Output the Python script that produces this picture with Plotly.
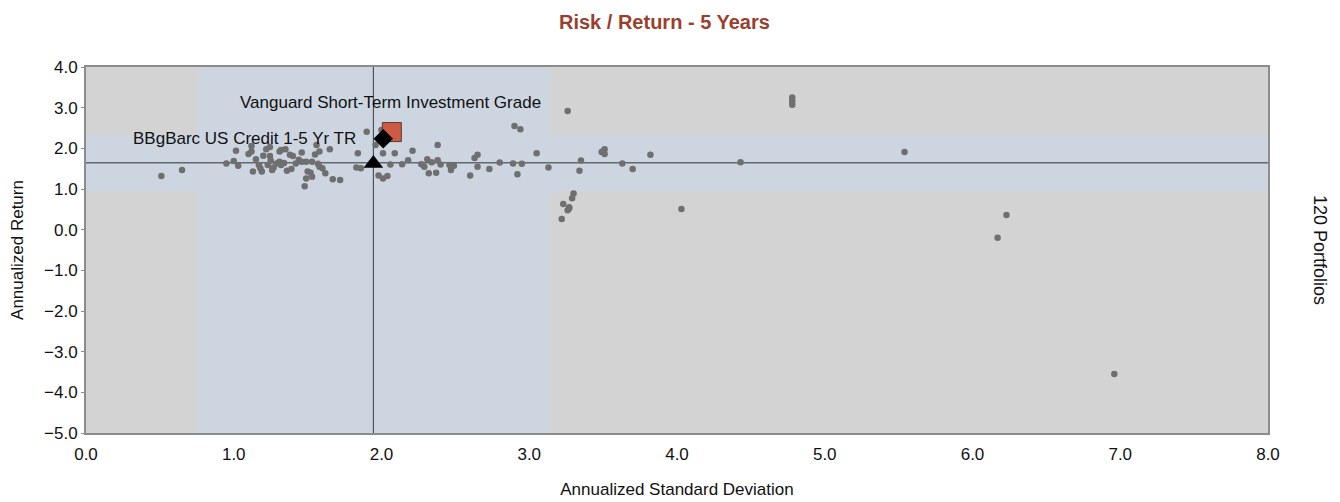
import plotly.graph_objects as go

# ---- data ----
portfolio_sd = [
    0.51, 0.65, 0.95, 1.00, 1.015, 1.03, 1.10, 1.12, 1.12, 1.13,
    1.17, 1.18, 1.19, 1.22, 1.245, 1.245, 1.23, 1.26, 1.29, 1.31,
    1.31, 1.32, 1.32, 1.35, 1.38, 1.40, 1.39, 1.46, 1.46, 1.49,
    1.53, 1.50, 1.52, 1.49, 1.48, 1.55, 1.56, 1.58, 1.58, 1.60,
    1.62, 1.65, 1.67, 1.72, 1.84, 1.83, 1.86, 1.90, 1.96, 2.00,
    2.01, 2.09, 1.98, 2.01, 2.04, 2.14, 2.18, 2.21, 2.27, 2.29,
    2.31, 2.32, 2.37, 2.38, 2.38, 2.46, 2.47, 2.49, 2.60, 2.63,
    2.65, 2.65, 2.73, 2.80, 2.89, 2.90, 2.94, 2.92, 3.05, 3.13,
    3.26, 3.34, 3.35, 3.49, 3.51, 3.51, 3.63, 3.70, 3.82, 3.30,
    3.29, 3.23, 3.27, 3.26, 3.22, 4.03, 4.43, 4.78, 4.78, 4.78,
    5.54, 6.23, 6.17, 6.96, 1.27, 1.42, 1.36, 1.44, 1.15, 1.25,
    2.40, 2.34, 1.53, 2.95, 3.50, 1.34, 1.20, 1.57, 2.06, 3.27,
]
portfolio_ret = [
    1.32, 1.47, 1.63, 1.69, 1.94, 1.57, 1.86, 2.06, 1.92, 1.43,
    1.59, 1.51, 1.43, 1.98, 2.03, 1.81, 1.59, 1.47, 1.63, 1.92,
    1.67, 1.59, 1.96, 1.98, 1.84, 1.81, 1.49, 1.90, 1.67, 1.67,
    1.67, 1.43, 1.40, 1.26, 1.07, 1.85, 2.08, 1.92, 1.55, 1.51,
    1.39, 1.98, 1.24, 1.22, 1.88, 1.53, 1.51, 2.41, 2.08, 2.45,
    1.88, 1.88, 1.33, 1.26, 1.32, 1.61, 1.71, 1.94, 1.61, 1.55,
    1.73, 1.39, 1.40, 2.08, 1.71, 1.59, 1.47, 1.57, 1.33, 1.76,
    1.84, 1.55, 1.49, 1.65, 1.63, 2.55, 2.47, 1.36, 1.88, 1.53,
    2.92, 1.45, 1.70, 1.91, 1.98, 1.86, 1.63, 1.49, 1.84, 0.89,
    0.77, 0.63, 0.55, 0.48, 0.26, 0.51, 1.66, 3.25, 3.16, 3.07,
    1.91, 0.36, -0.20, -3.55, 1.53, 1.63, 1.45, 1.72, 1.73, 1.70,
    1.60, 1.66, 1.30, 1.62, 1.93, 1.64, 1.82, 1.62, 1.60, 0.52,
]

fund_name = "Vanguard Short-Term Investment Grade"
fund_sd, fund_ret = 2.07, 2.40
fund2_sd, fund2_ret = 2.012, 2.237
bench_name = "BBgBarc US Credit 1-5 Yr TR"
bench_sd, bench_ret = 1.945, 1.63

cross_sd, cross_ret = 1.945, 1.647
band_sd = [0.753, 3.136]
band_ret = [0.947, 2.347]

x_ticks = [0, 1, 2, 3, 4, 5, 6, 7, 8]
y_ticks = [4, 3, 2, 1, 0, -1, -2, -3, -4, -5]

FONT = "Liberation Sans, Arial, sans-serif"

# page body has an 8px default margin; figure sized so plot lands in place
W, H = 1332, 494
L, T = 78, 59
PR, PB = 1260, 425  # plot right / bottom in figure pixels

fig = go.Figure()

fig.add_trace(go.Scatter(
    x=portfolio_sd, y=portfolio_ret, mode="markers",
    marker=dict(color="#6f6f6f", size=6.5, line=dict(width=0)),
    showlegend=False, hoverinfo="x+y"))

fig.add_trace(go.Scatter(
    x=[bench_sd], y=[bench_ret], mode="markers",
    marker=dict(symbol="triangle-up", color="black", size=17),
    showlegend=False, name=bench_name))

fig.add_trace(go.Scatter(
    x=[fund_sd], y=[fund_ret], mode="markers",
    marker=dict(symbol="square", color="#cd5a45", size=19,
                line=dict(color="#5a3a30", width=1)),
    showlegend=False, name=fund_name))

fig.add_trace(go.Scatter(
    x=[fund2_sd], y=[fund2_ret], mode="markers",
    marker=dict(symbol="diamond", color="black", size=15),
    showlegend=False))

band_col = "#cdd5e1"
shapes = [
    dict(type="rect", xref="x", yref="y", x0=band_sd[0], x1=band_sd[1],
         y0=-5, y1=4, fillcolor=band_col, line=dict(width=0), layer="below"),
    dict(type="rect", xref="x", yref="y", x0=0, x1=8,
         y0=band_ret[0], y1=band_ret[1], fillcolor=band_col, line=dict(width=0), layer="below"),
    dict(type="line", xref="x", yref="y", x0=cross_sd, x1=cross_sd, y0=-5, y1=4,
         line=dict(color="#3a3a3a", width=1), layer="below"),
    dict(type="line", xref="x", yref="y", x0=0, x1=8, y0=cross_ret, y1=cross_ret,
         line=dict(color="#606870", width=1.5), layer="below"),
]

pw = PR - L
ph = PB - T
annotations = [
    dict(x=2.064, y=3.115, xref="x", yref="y", text=fund_name, showarrow=False,
         xanchor="center", yanchor="middle", font=dict(family=FONT, size=17, color="#111")),
    dict(x=1.84, y=2.254, xref="x", yref="y", text=bench_name, showarrow=False,
         xanchor="right", yanchor="middle", font=dict(family=FONT, size=17, color="#111")),
    dict(x=1.0 + (1312 - PR) / pw, y=(PB - 242) / ph, xref="paper", yref="paper",
         text="120 Portfolios", showarrow=False, textangle=90,
         xanchor="center", yanchor="middle", font=dict(family=FONT, size=18, color="#111")),
    dict(x=652 / W, y=1.0, xref="paper", yref="paper", yshift=T - 0,
         text="<b>Risk / Return - 5 Years</b>", showarrow=False,
         xanchor="center", yanchor="top", font=dict(family=FONT, size=20, color="#9a3f2e")),
]
# title annotation is positioned in paper coords above plot: convert to top-of-figure
annotations[3]["y"] = 1.0 + (T - 1) / ph
annotations[3]["yshift"] = 0

fig.update_layout(
    width=W, height=H,
    margin=dict(l=L, r=W - PR, t=T, b=H - PB, autoexpand=False),
    paper_bgcolor="white", plot_bgcolor="#d3d3d3",
    shapes=shapes, annotations=annotations,
    font=dict(family=FONT, size=16, color="#111"),
)
fig.update_xaxes(
    range=[0, 8], tickvals=x_ticks, tickformat=".1f", showgrid=False, zeroline=False,
    showline=True, linecolor="#8c8c8c", linewidth=2, mirror=True,
    ticks="outside", ticklen=5, tickcolor="rgba(0,0,0,0)",
    tickfont=dict(family=FONT, size=17, color="#111"),
    title=dict(text="Annualized Standard Deviation", standoff=20,
               font=dict(family=FONT, size=17, color="#111")),
)
fig.update_yaxes(
    range=[-5, 4], tickvals=y_ticks, tickformat=".1f", showgrid=False, zeroline=False,
    showline=True, linecolor="#8c8c8c", linewidth=2, mirror=True,
    ticks="outside", ticklen=3, tickcolor="#8c8c8c",
    tickfont=dict(family=FONT, size=17, color="#111"),
    title=dict(text="Annualized Return", standoff=16,
               font=dict(family=FONT, size=17, color="#111")),
)

fig.write_html("out.html")
